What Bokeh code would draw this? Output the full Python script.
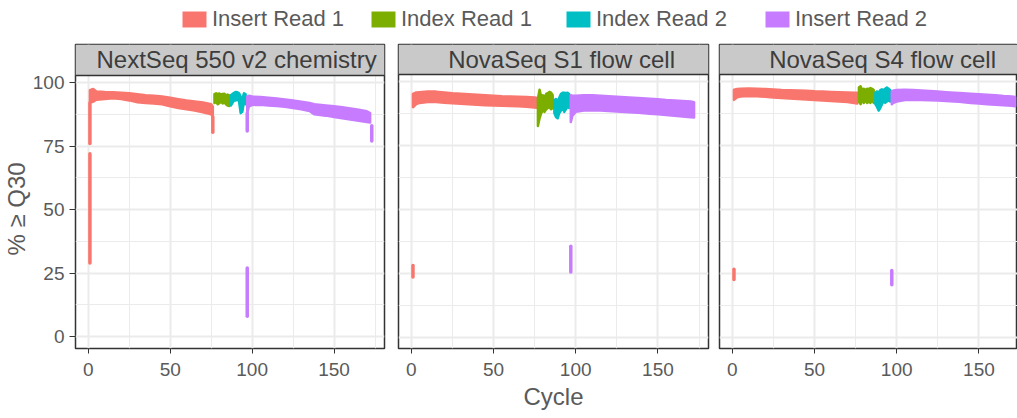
from bokeh.plotting import figure
from bokeh.models import (Range1d, FixedTicker, Grid, Legend, LegendItem, Label,
                          BoxAnnotation, Span, Title)
from bokeh.layouts import column, row
from bokeh.embed import file_html
from bokeh.resources import INLINE

# ---------------- data ----------------
reads = ["Insert Read 1", "Index Read 1", "Index Read 2", "Insert Read 2"]
read_colors = ["#F8766D", "#7CAE00", "#00BFC4", "#C77CFF"]
panels = ["NextSeq 550 v2 chemistry", "NovaSeq S1 flow cell", "NovaSeq S4 flow cell"]
x_ticks = [0, 50, 100, 150]
x_minor = [25, 75, 125, 175]
y_ticks = [0, 25, 50, 75, 100]
y_minor = [12.5, 37.5, 62.5, 87.5]

# band of % >= Q30 over tiles (low / high edge) per cycle
ir1_cyc = [1, 3, 5, 10, 15, 20, 25, 30, 35, 40, 45, 50, 55, 60, 65, 70, 75, 76]
p1_ir1_lo = [92.0, 92.5, 93.3, 93.5, 93.8, 93.5, 93.0, 92.3, 92.0, 91.8, 91.5, 90.7, 90.0, 89.5, 89.0, 88.3, 87.5, 86.5]
p1_ir1_hi = [97.0, 97.5, 96.5, 96.3, 96.2, 96.0, 95.8, 95.4, 95.0, 94.8, 94.5, 94.0, 93.5, 93.0, 92.6, 92.2, 91.5, 90.5]
p2_ir1_lo = [89.8, 91.0, 91.5, 91.8, 91.8, 91.6, 91.4, 91.2, 91.0, 90.8, 90.6, 90.5, 90.4, 90.3, 90.2, 90.0, 89.7, 89.6]
p2_ir1_hi = [95.0, 95.6, 95.7, 95.9, 95.9, 95.6, 95.3, 95.1, 94.9, 94.7, 94.5, 94.3, 94.1, 94.0, 93.9, 93.8, 93.6, 93.5]
p3_ir1_lo = [92.7, 93.7, 94.0, 94.2, 94.1, 93.9, 93.6, 93.4, 93.2, 93.0, 92.8, 92.6, 92.4, 92.2, 92.0, 91.8, 91.4, 91.3]
p3_ir1_hi = [96.6, 96.9, 97.0, 97.1, 97.0, 96.9, 96.7, 96.5, 96.4, 96.3, 96.2, 96.0, 95.9, 95.8, 95.7, 95.6, 95.5, 95.5]

idx1_cyc = [77, 78, 79, 80, 81, 82, 83, 84, 85, 86]
p1_idx1_lo = [92.0, 92.5, 91.5, 92.0, 92.5, 91.8, 92.3, 91.5, 91.0, 90.8]
p1_idx1_hi = [95.5, 95.8, 95.5, 95.7, 95.3, 95.5, 95.6, 95.0, 95.3, 95.0]
p2_idx1_lo = [82.5, 85.5, 87.5, 88.5, 88.0, 89.0, 89.5, 90.0, 89.0, 89.5]
p2_idx1_hi = [93.0, 96.6, 94.0, 94.5, 93.5, 95.0, 95.3, 95.8, 95.5, 94.5]
p3_idx1_lo = [92.0, 91.0, 92.5, 91.5, 92.5, 91.5, 92.0, 91.5, 92.5, 91.5]
p3_idx1_hi = [97.5, 98.0, 96.5, 97.0, 96.5, 97.0, 96.8, 97.3, 97.0, 96.5]

idx2_cyc = [87, 88, 89, 90, 91, 92, 93, 94, 95, 96]
p1_idx2_lo = [91.0, 92.0, 93.0, 93.0, 93.5, 92.5, 88.0, 88.5, 92.5, 91.5]
p1_idx2_hi = [95.0, 95.5, 96.0, 96.3, 96.2, 95.8, 94.5, 93.5, 95.8, 95.5]
p2_idx2_lo = [87.5, 86.0, 85.5, 87.5, 88.5, 89.5, 88.0, 89.0, 90.0, 89.5]
p2_idx2_hi = [92.5, 93.0, 92.0, 93.5, 95.0, 95.5, 95.5, 95.3, 95.5, 95.0]
p3_idx2_lo = [91.0, 90.0, 88.5, 89.5, 91.0, 92.0, 91.5, 92.0, 92.5, 92.0]
p3_idx2_hi = [95.5, 96.0, 95.5, 96.5, 96.8, 96.5, 97.0, 97.5, 97.0, 96.5]

ir2_cyc = [97, 98, 100, 105, 110, 115, 120, 125, 130, 135, 138, 145, 150, 155, 160, 165, 170, 172]
p1_ir2_lo = [88.0, 90.5, 91.2, 91.3, 91.0, 90.8, 90.5, 90.0, 89.5, 88.8, 87.5, 87.0, 86.5, 86.0, 85.5, 85.0, 84.5, 84.3]
p1_ir2_hi = [94.5, 94.8, 94.5, 94.3, 94.0, 93.7, 93.4, 93.0, 92.5, 92.0, 91.5, 91.0, 90.7, 90.3, 89.8, 89.3, 88.7, 88.0]
p2_ir2_lo = [84.0, 86.5, 88.0, 88.5, 88.6, 88.5, 88.3, 88.1, 87.9, 87.7, 87.6, 87.3, 87.1, 86.8, 86.5, 86.2, 85.9, 85.8]
p2_ir2_hi = [94.5, 94.3, 94.3, 94.5, 94.5, 94.3, 94.1, 93.9, 93.7, 93.5, 93.4, 93.1, 92.9, 92.6, 92.4, 92.2, 92.0, 91.8]
p3_ir2_lo = [91.0, 91.5, 92.0, 92.6, 92.7, 92.6, 92.5, 92.4, 92.2, 92.0, 91.9, 91.5, 91.3, 91.0, 90.8, 90.6, 90.4, 90.2]
p3_ir2_hi = [96.1, 96.3, 96.5, 96.6, 96.5, 96.3, 96.1, 95.9, 95.7, 95.5, 95.4, 95.1, 94.9, 94.7, 94.5, 94.2, 94.0, 93.8]

# isolated tile groups (read index, cycle, low, high)
p1_out_read = [0, 0, 0, 3, 3, 3]
p1_out_cyc = [1, 1, 76, 97, 97, 173]
p1_out_lo = [29.0, 76.0, 80.5, 81.0, 8.0, 77.0]
p1_out_hi = [72.0, 92.0, 86.5, 88.0, 27.0, 83.0]
p2_out_read = [0, 3]
p2_out_cyc = [1, 97]
p2_out_lo = [23.5, 25.5]
p2_out_hi = [28.0, 35.5]
p3_out_read = [0, 3]
p3_out_cyc = [1, 97]
p3_out_lo = [22.5, 20.5]
p3_out_hi = [26.5, 26.0]

panel_data = [
    [(ir1_cyc, p1_ir1_lo, p1_ir1_hi), (idx1_cyc, p1_idx1_lo, p1_idx1_hi),
     (idx2_cyc, p1_idx2_lo, p1_idx2_hi), (ir2_cyc, p1_ir2_lo, p1_ir2_hi)],
    [(ir1_cyc, p2_ir1_lo, p2_ir1_hi), (idx1_cyc, p2_idx1_lo, p2_idx1_hi),
     (idx2_cyc, p2_idx2_lo, p2_idx2_hi), (ir2_cyc, p2_ir2_lo, p2_ir2_hi)],
    [(ir1_cyc, p3_ir1_lo, p3_ir1_hi), (idx1_cyc, p3_idx1_lo, p3_idx1_hi),
     (idx2_cyc, p3_idx2_lo, p3_idx2_hi), (ir2_cyc, p3_ir2_lo, p3_ir2_hi)],
]
panel_out = [
    (p1_out_read, p1_out_cyc, p1_out_lo, p1_out_hi),
    (p2_out_read, p2_out_cyc, p2_out_lo, p2_out_hi),
    (p3_out_read, p3_out_cyc, p3_out_lo, p3_out_hi),
]

# ---------------- style / layout ----------------
FONT = "Liberation Sans"
TXT = "#5a5a5a"
STRIP_TXT = "#3d3d3d"
DARK = "#333333"
GRID = "#ebebeb"
STRIP = "#c9c9c9"
X0 = -7.8
PXU = 1.644  # px per cycle

# per panel: fig width, min border left, min border right, frame width,
#            min border bottom, y-range low, y-range high (incl. strip), strip bottom
geo = [
    dict(w=391, ml=74, mr=7, fw=310, mb=66, ylo=-4.66, yhi=115.0, sy=102.8),
    dict(w=322, ml=7, mr=5, fw=310, mb=70, ylo=-4.41, yhi=114.3, sy=102.6),
    dict(w=304, ml=6, mr=0, fw=298, mb=70, ylo=-4.41, yhi=114.3, sy=102.6),
]


def style_axis(ax, ticks):
    ax.ticker = FixedTicker(ticks=ticks)
    ax.axis_line_color = None
    ax.major_tick_line_color = DARK
    ax.major_tick_line_width = 1
    ax.major_tick_in = 0
    ax.minor_tick_line_color = None
    ax.major_label_text_font = FONT
    ax.major_label_text_font_size = "19px"
    ax.major_label_text_color = TXT
    ax.axis_label_text_font = FONT
    ax.axis_label_text_font_size = "24px"
    ax.axis_label_text_font_style = "normal"
    ax.axis_label_text_color = TXT


def make_panel(k):
    g = geo[k]
    x_end = X0 + g["fw"] / PXU
    p = figure(width=g["w"], height=378,
               x_range=Range1d(X0, x_end), y_range=Range1d(g["ylo"], g["yhi"]),
               output_backend="svg", toolbar_location=None, tools="",
               x_axis_location="below", y_axis_location="left" if k == 0 else None,
               min_border_left=g["ml"], min_border_right=g["mr"],
               min_border_top=4, min_border_bottom=g["mb"],
               background_fill_color="white", border_fill_color="white",
               outline_line_color=DARK, outline_line_width=1.5)
    p.center = []
    p.add_layout(Grid(dimension=0, ticker=FixedTicker(ticks=x_ticks, minor_ticks=x_minor),
                      grid_line_color=GRID, grid_line_width=2,
                      minor_grid_line_color=GRID, minor_grid_line_width=1))
    p.add_layout(Grid(dimension=1, ticker=FixedTicker(ticks=y_ticks, minor_ticks=y_minor),
                      grid_line_color=GRID, grid_line_width=2,
                      minor_grid_line_color=GRID, minor_grid_line_width=1))
    xa = p.xaxis[0]
    style_axis(xa, x_ticks)
    xa.major_tick_out = 5
    xa.major_label_standoff = 9
    if k == 1:
        xa.axis_label = "Cycle"
        xa.axis_label_standoff = 4
    if k == 0:
        ya = p.yaxis[0]
        style_axis(ya, y_ticks)
        ya.major_tick_out = 6
        ya.major_label_standoff = 5
        # y title: starts above the panel bottom so it centres on the data area
        p.add_layout(Title(text="% ≥ Q30", align="left", offset=93, standoff=0,
                           text_font=FONT, text_font_size="24px",
                           text_font_style="normal", text_color=TXT), "left")

    for ri, (cyc, lo, hi) in enumerate(panel_data[k]):
        xs = list(cyc) + list(cyc)[::-1]
        ys = list(hi) + list(lo)[::-1]
        p.patch(xs, ys, fill_color=read_colors[ri], line_color=read_colors[ri],
                line_width=2.5, line_join="round")
    o_read, o_cyc, o_lo, o_hi = panel_out[k]
    p.segment(x0=o_cyc, y0=o_lo, x1=o_cyc, y1=o_hi,
              line_color=[read_colors[r] for r in o_read], line_width=3.5, line_cap="round")

    # facet strip
    p.add_layout(BoxAnnotation(bottom=g["sy"], fill_color=STRIP, fill_alpha=1.0,
                               line_alpha=0))
    p.add_layout(Span(location=g["sy"], dimension="width", line_color=DARK, line_width=1.5))
    p.add_layout(Label(x=90.5 if k == 0 else 91.4, y=(g["sy"] + g["yhi"]) / 2, text=panels[k],
                       text_align="center", text_baseline="middle",
                       text_font=FONT, text_font_size="24px", text_color=STRIP_TXT))
    return p


figs = [make_panel(k) for k in range(3)]

# legend strip on top (one legend per key, placed like the reference)
lf = figure(width=1017, height=40, x_range=Range1d(0, 1), y_range=Range1d(0, 1),
            output_backend="svg", toolbar_location=None, tools="",
            x_axis_location=None, y_axis_location=None,
            min_border_left=0, min_border_right=0, min_border_top=0, min_border_bottom=0,
            outline_line_color=None)
lf.center = []
key_x = [179, 368, 563, 762]
for name, c, kx in zip(reads, read_colors, key_x):
    r = lf.rect(x=[-5], y=[-5], width=1, height=1, fill_color=c, line_color=None)
    leg = Legend(items=[LegendItem(label=name, renderers=[r])], orientation="horizontal",
                 location=(kx, 8), glyph_width=30, glyph_height=20, label_standoff=3,
                 padding=0, margin=0, border_line_color=None, background_fill_alpha=0,
                 label_text_font=FONT, label_text_font_size="22px", label_text_color=TXT,
                 label_height=20)
    lf.add_layout(leg)

layout = column(lf, row(*figs, spacing=0), spacing=0)
open("out.html", "w").write(file_html(layout, INLINE))
